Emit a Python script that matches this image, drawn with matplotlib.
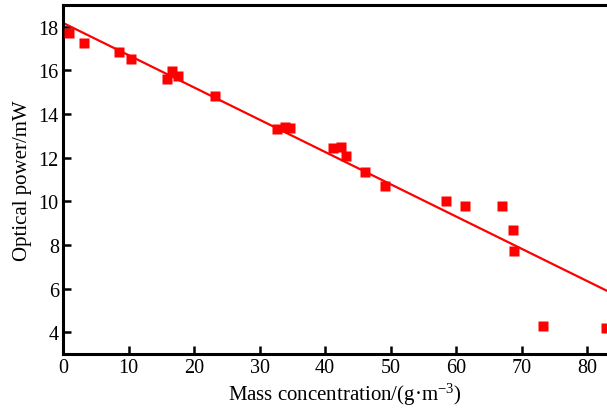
import matplotlib
matplotlib.use("Agg")
import matplotlib.pyplot as plt
import numpy as np

# Data
mass_conc = [0.9, 3.2, 8.5, 10.4, 15.9, 16.7, 17.6, 23.2, 32.7, 33.8, 34.7,
             41.2, 42.4, 43.2, 46.1, 49.2, 58.4, 61.4, 67.0, 68.7, 68.8, 73.2, 82.8]
optical_power = [17.7, 17.24, 16.86, 16.52, 15.6, 15.97, 15.76, 14.81, 13.3, 13.4, 13.35,
                 12.43, 12.5, 12.1, 11.35, 10.71, 10.0, 9.8, 9.8, 8.7, 7.72, 4.29, 4.2]
fit_intercept = 18.18
fit_slope = -0.148
x_ticks = [0, 10, 20, 30, 40, 50, 60, 70, 80]
y_ticks = [4, 6, 8, 10, 12, 14, 16, 18]

plt.rcParams['font.family'] = ['Liberation Serif', 'DejaVu Serif']
plt.rcParams['mathtext.fontset'] = 'custom'
plt.rcParams['mathtext.rm'] = 'Liberation Serif'
plt.rcParams['mathtext.it'] = 'Liberation Serif:italic'

fig = plt.figure(figsize=(6.07, 4.10), dpi=100)
ax = fig.add_axes([63/607, 1-355/410, 1-63/607, (355-6)/410])

xfit = np.array([0, 83.0])
ax.plot(xfit, fit_intercept + fit_slope*xfit, color='#ff0000', lw=1.6, zorder=2)
ax.plot(mass_conc, optical_power, 's', color='#ff0000', ms=7.2, mec='none',
        zorder=3, clip_on=False)

ax.set_xlim(0, 83.0)
ax.set_ylim(3, 19)
ax.set_xticks(x_ticks)
ax.set_yticks(y_ticks)
ax.tick_params(direction='in', length=6, width=1.8, labelsize=14.5, pad=3)
for s in ['left', 'bottom', 'top']:
    ax.spines[s].set_linewidth(2.2)
ax.spines['right'].set_visible(False)

ax.set_xlabel('Mass concentration/(g·m$^{\\mathrm{-3}}$)', fontsize=15, labelpad=1)
ax.xaxis.set_label_coords(0.518, -0.077)
ax.set_ylabel('Optical power/mW', fontsize=15, labelpad=5)

fig.savefig('out.png', dpi=100)
